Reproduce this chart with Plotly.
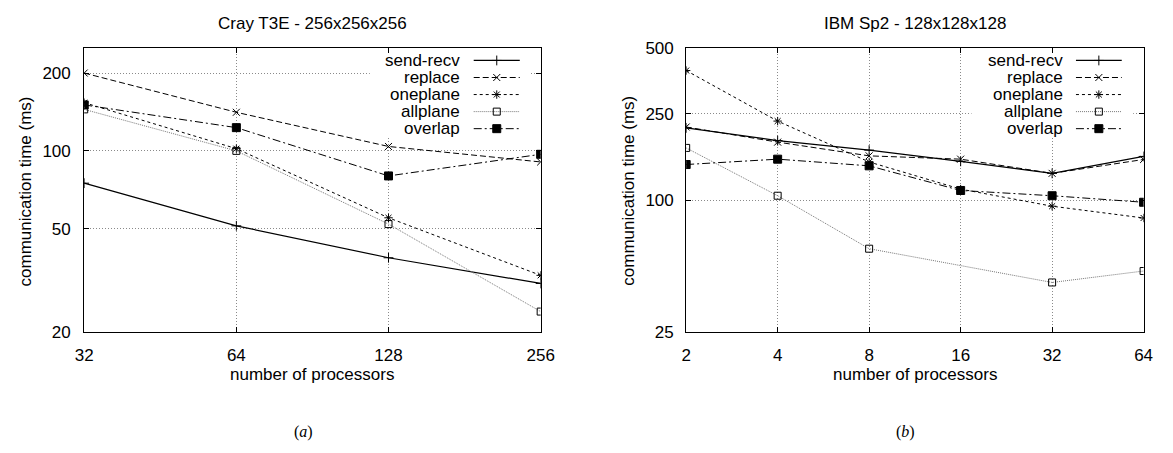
import plotly.graph_objects as go

W, H = 1173, 453

# ---------------- data ----------------
series_names = ["send-recv", "replace", "oneplane", "allplane", "overlap"]

cray_procs = [32, 64, 128, 256]
cray_send_recv = [75, 51.3, 38.6, 30.7]
cray_replace = [200, 141, 104, 90.6]
cray_oneplane = [153.6, 102, 55.1, 33]
cray_allplane = [144.7, 100, 52.1, 23.9]
cray_overlap = [150.6, 123, 80, 97]

ibm_procs = [2, 4, 8, 16, 32, 64]
ibm_send_recv = [215, 188, 170, 151, 133, 159]
ibm_replace = [217, 185, 160, 154.5, 133, 154]
ibm_oneplane = [394, 231, 150, 112.6, 94, 83]
ibm_allplane = [174, 105, 60, None, 42, 47.4]
ibm_overlap = [146, 154.5, 144, 111, 105, 98]

cray_yticks = [20, 50, 100, 200]
ibm_yticks = [25, 100, 250, 500]

# ---------------- styles ----------------
FONT = "Liberation Sans, Arial, Helvetica, sans-serif"
FS = 17
styles = {
    "send-recv": dict(dash="solid", color="#000", symbol="cross-thin-open", size=7, width=1.2),
    "replace": dict(dash="6px,3px", color="#000", symbol="x-thin-open", size=7, width=1),
    "oneplane": dict(dash="3px,3px", color="#000", symbol="asterisk-open", size=7, width=1),
    "allplane": dict(dash="1px,1px", color="#777", symbol="square-open", size=7, width=1),
    "overlap": dict(dash="8px,3px,2px,3px", color="#000", symbol="square", size=8, width=1),
}

# plot area pixel boxes
L = dict(x0=76.7, x1=542.3)
R = dict(x0=690.7, x1=1157.3)
top, bot = 40.7, 336.7
ydom = [(H - bot) / H, (H - top) / H]

cray_xr = [1.50515, 2.40824]
cray_yr = [1.30103, 2.39794]
ibm_xr = [0.30103, 1.80618]
ibm_yr = [1.39794, 2.69897]

fig = go.Figure()


def frac_to_val(rng, f):
    return 10 ** (rng[0] + f * (rng[1] - rng[0]))


def add_keybox(xr, yr, fx0, fx1, fy0, fy1, xa, ya):
    xs = [frac_to_val(xr, f) for f in (fx0, fx1, fx1, fx0, fx0)]
    ys = [frac_to_val(yr, f) for f in (fy0, fy0, fy1, fy1, fy0)]
    fig.add_trace(go.Scatter(x=xs, y=ys, mode="lines", fill="toself", fillcolor="white",
                             line=dict(width=0, color="white"), xaxis=xa, yaxis=ya,
                             showlegend=False, hoverinfo="skip"))


add_keybox(cray_xr, cray_yr, 0.6257, 0.9772, 0.688, 0.997, "x", "y")
add_keybox(ibm_xr, ibm_yr, 0.6237, 0.9773, 0.688, 0.997, "x2", "y2")


def add_series(x, ys, xa, ya):
    for name, y in zip(series_names, ys):
        s = styles[name]
        fig.add_trace(go.Scatter(
            x=x, y=y, mode="lines+markers", name=name, showlegend=False,
            connectgaps=True, xaxis=xa, yaxis=ya,
            line=dict(color=s["color"], dash=s["dash"], width=s["width"]),
            marker=dict(symbol=s["symbol"], size=s["size"], color="#000",
                        line=dict(color="#000", width=1)),
        ))


add_series(cray_procs, [cray_send_recv, cray_replace, cray_oneplane, cray_allplane, cray_overlap], "x", "y")
add_series(ibm_procs, [ibm_send_recv, ibm_replace, ibm_oneplane, ibm_allplane, ibm_overlap], "x2", "y2")

common_axis = dict(
    type="log", showline=True, linecolor="#000", linewidth=1, mirror="allticks",
    ticks="inside", ticklen=5, tickcolor="#000", showgrid=True, gridcolor="#8a8a8a",
    griddash="1px,2px", gridwidth=1, zeroline=False,
    tickfont=dict(family=FONT, size=FS, color="#000"),
)

fig.update_layout(
    width=W, height=H, margin=dict(l=0, r=0, t=0, b=0),
    paper_bgcolor="white", plot_bgcolor="rgba(0,0,0,0)", showlegend=False,
    xaxis=dict(common_axis, domain=[L["x0"] / W, L["x1"] / W], anchor="y",
               range=cray_xr, tickvals=cray_procs, ticktext=[str(v) for v in cray_procs],
               ticklabelstandoff=8),
    yaxis=dict(common_axis, domain=ydom, anchor="x",
               range=cray_yr, tickvals=cray_yticks, ticktext=[str(v) for v in cray_yticks],
               ticklabelstandoff=9),
    xaxis2=dict(common_axis, domain=[R["x0"] / W, R["x1"] / W], anchor="y2",
                range=ibm_xr, tickvals=ibm_procs, ticktext=[str(v) for v in ibm_procs],
                ticklabelstandoff=8),
    yaxis2=dict(common_axis, domain=ydom, anchor="x2",
                range=ibm_yr, tickvals=ibm_yticks, ticktext=[str(v) for v in ibm_yticks],
                ticklabelstandoff=8),
    # overlay pixel-space axes for the key samples
    xaxis3=dict(domain=[0, 1], range=[0, W], visible=False, anchor="y3"),
    yaxis3=dict(domain=[0, 1], range=[H, 0], visible=False, anchor="x3"),
)

# key
key_rows = [53.7, 71.5, 89.3, 107.1, 124.9]
for (tx, sx0, sx1) in [(461.7, 474, 521), (1077.3, 1088.3, 1135)]:
    for name, ky in zip(series_names, key_rows):
        s = styles[name]
        fig.add_annotation(x=tx / W, y=(H - ky) / H, xref="paper", yref="paper", text=name,
                           showarrow=False, xanchor="right", yanchor="middle",
                           font=dict(family=FONT, size=FS, color="#000"))
        fig.add_trace(go.Scatter(
            x=[sx0, (sx0 + sx1) / 2, sx1], y=[ky, ky, ky], mode="lines+markers",
            xaxis="x3", yaxis="y3", showlegend=False, hoverinfo="skip",
            line=dict(color=s["color"], dash=s["dash"], width=s["width"]),
            marker=dict(symbol=s["symbol"], size=s["size"], color="#000", opacity=[0, 1, 0],
                        line=dict(color="#000", width=1)),
        ))


def ann(x, y, text, size=FS, angle=0, family=FONT):
    fig.add_annotation(x=x / W, y=(H - y) / H, xref="paper", yref="paper", text=text,
                       showarrow=False, xanchor="center", yanchor="middle", textangle=angle,
                       font=dict(family=family, size=size, color="#000"))


ann(309.5, 15, "Cray T3E - 256x256x256")
ann(924, 15, "IBM Sp2 - 128x128x128")
ann(309.2, 381.7, "number of processors")
ann(924, 381.7, "number of processors")
ann(16.7, 190, "communication time (ms)", angle=-90)
ann(631, 190, "communication time (ms)", angle=-90)
ann(300, 441.7, "(<i>a</i>)", size=16, family="Liberation Serif, DejaVu Serif, serif")
ann(914.3, 441.7, "(<i>b</i>)", size=16, family="Liberation Serif, DejaVu Serif, serif")

fig.write_html("out.html")
